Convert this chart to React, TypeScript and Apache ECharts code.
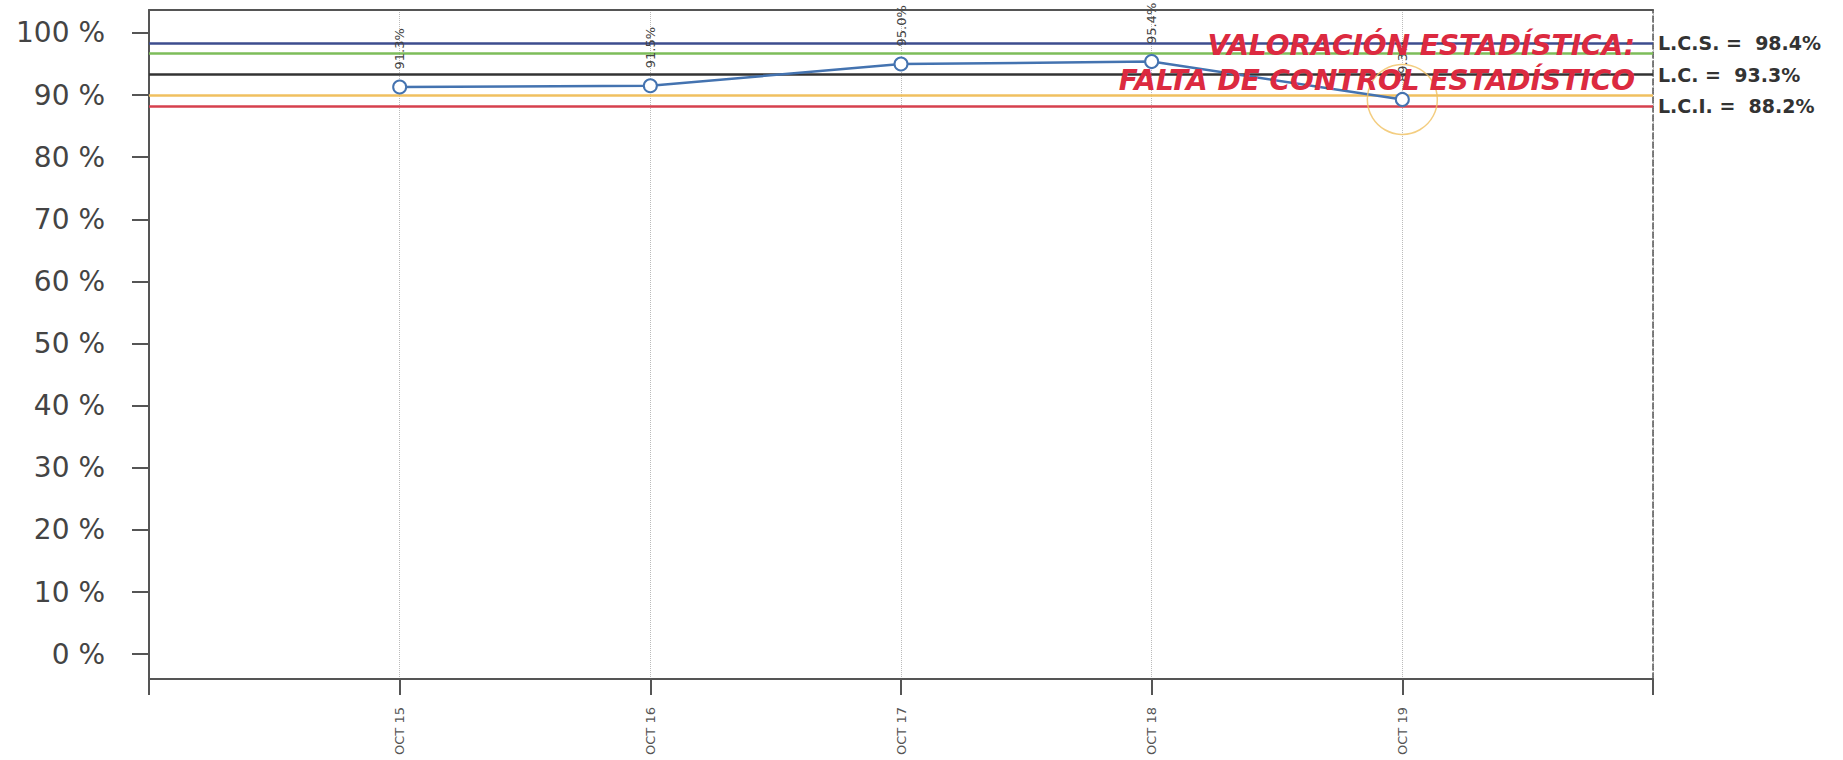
import React, { useEffect, useRef } from "react";
import * as echarts from "echarts";

const categories = ["", "OCT 15", "OCT 16", "OCT 17", "OCT 18", "OCT 19", ""];
const values: (number | null)[] = [null, 91.3, 91.5, 95.0, 95.4, 89.3, null];
const yTicks = [0, 10, 20, 30, 40, 50, 60, 70, 80, 90, 100];
const limitUpper = 98.4;
const limitCenter = 93.3;
const limitLower = 88.2;
const warnUpper = 96.7;
const warnLower = 89.9;
const alertLines = ["VALORACIÓN ESTADÍSTICA:", "FALTA DE CONTROL ESTADÍSTICO"];

const FONT = "DejaVu Sans";

export default function App() {
  const ref = useRef<HTMLDivElement>(null);

  useEffect(() => {
    if (!ref.current) return;
    const chart = echarts.init(ref.current, undefined, { renderer: "svg" });

    const highlight = values.map((v) =>
      v != null && (v < warnLower || v > warnUpper) ? v : null
    );

    const limitLabel = (name: string) => ({
      show: true,
      position: "end",
      distance: 5,
      color: "#333",
      fontFamily: FONT,
      fontWeight: "bold",
      fontSize: 19,
      formatter: (p: any) => `${name} = \u00a0${Number(p.value).toFixed(1)}%`,
    });

    const option: any = {
      animation: false,
      backgroundColor: "#ffffff",
      textStyle: { fontFamily: FONT },
      grid: { left: 149, right: 190, top: 10, bottom: 81, containLabel: false },
      xAxis: [
        {
          type: "category",
          data: categories,
          boundaryGap: false,
          position: "bottom",
          axisLine: { show: true, onZero: false, lineStyle: { color: "#555", width: 2 } },
          axisTick: {
            show: true,
            inside: false,
            length: 16,
            alignWithLabel: true,
            interval: 0,
            lineStyle: { color: "#555", width: 2 },
          },
          axisLabel: {
            show: true,
            interval: 0,
            rotate: 90,
            margin: 28,
            fontSize: 13,
            color: "#555",
            fontFamily: FONT,
          },
          splitLine: {
            show: true,
            interval: 0,
            lineStyle: { color: "#bbb", type: "dotted", width: 1 },
          },
        },
        {
          type: "category",
          data: categories,
          boundaryGap: false,
          position: "top",
          axisLine: { show: true, onZero: false, lineStyle: { color: "#555", width: 2 } },
          axisTick: { show: false },
          axisLabel: { show: false },
          splitLine: { show: false },
        },
      ],
      yAxis: [
        {
          type: "value",
          min: -4,
          max: 103.7,
          position: "left",
          axisLine: { show: true, onZero: false, lineStyle: { color: "#555", width: 2 } },
          axisTick: {
            show: true,
            length: 17,
            customValues: yTicks,
            lineStyle: { color: "#555", width: 2 },
          },
          axisLabel: {
            show: true,
            customValues: yTicks,
            formatter: "{value} %",
            margin: 44,
            fontSize: 28,
            color: "#444",
            fontFamily: FONT,
          },
          splitLine: { show: false },
        },
        {
          type: "value",
          min: -4,
          max: 103.7,
          position: "right",
          axisLine: {
            show: true,
            onZero: false,
            lineStyle: { color: "#555", width: 1.5, type: "dashed" },
          },
          axisTick: { show: false },
          axisLabel: { show: false },
          splitLine: { show: false },
        },
      ],
      series: [
        {
          type: "line",
          data: values,
          xAxisIndex: 0,
          yAxisIndex: 0,
          z: 5,
          symbol: "emptyCircle",
          symbolSize: 13,
          lineStyle: { color: "#4473b0", width: 2.5 },
          itemStyle: { color: "#4473b0", borderColor: "#4473b0", borderWidth: 3 },
          label: {
            show: true,
            position: "top",
            distance: 10,
            rotate: 90,
            align: "left",
            verticalAlign: "middle",
            fontSize: 13,
            color: "#444",
            fontFamily: FONT,
            formatter: (p: any) => `${Number(p.value).toFixed(1)}%`,
          },
          markLine: {
            silent: true,
            symbol: "none",
            z: 2,
            label: { show: false },
            emphasis: { disabled: true },
            data: [
              {
                yAxis: limitUpper,
                lineStyle: { color: "#3d4d8e", width: 2.5, type: "solid" },
                label: limitLabel("L.C.S."),
              },
              {
                yAxis: warnUpper,
                lineStyle: { color: "#7dbd5a", width: 2.5, type: "solid" },
                label: { show: false },
              },
              {
                yAxis: limitCenter,
                lineStyle: { color: "#333333", width: 2.5, type: "solid" },
                label: limitLabel("L.C."),
              },
              {
                yAxis: warnLower,
                lineStyle: { color: "#f0c060", width: 2.5, type: "solid" },
                label: { show: false },
              },
              {
                yAxis: limitLower,
                lineStyle: { color: "#d6404e", width: 2.5, type: "solid" },
                label: limitLabel("L.C.I."),
              },
            ],
          },
        },
        {
          type: "scatter",
          data: highlight,
          xAxisIndex: 0,
          yAxisIndex: 0,
          z: 6,
          symbol: "circle",
          symbolSize: 70,
          silent: true,
          itemStyle: {
            color: "rgba(0,0,0,0)",
            borderColor: "#f0c060",
            borderWidth: 1.5,
          },
        },
      ],
      graphic: [
        {
          type: "text",
          x: 1635,
          y: 45,
          z: 100,
          style: {
            text: alertLines[0],
            fill: "#dc2a40",
            fontSize: 28,
            fontWeight: "bold",
            fontStyle: "italic",
            fontFamily: FONT,
            align: "right",
            verticalAlign: "middle",
          },
        },
        {
          type: "text",
          x: 1635,
          y: 80,
          z: 100,
          style: {
            text: alertLines[1],
            fill: "#dc2a40",
            fontSize: 28,
            fontWeight: "bold",
            fontStyle: "italic",
            fontFamily: FONT,
            align: "right",
            verticalAlign: "middle",
          },
        },
      ],
    };

    chart.setOption(option);
    return () => chart.dispose();
  }, []);

  return (
    <div
      ref={ref}
      style={{ position: "fixed", left: 0, top: 0, width: 1843, height: 760, background: "#fff" }}
    />
  );
}
